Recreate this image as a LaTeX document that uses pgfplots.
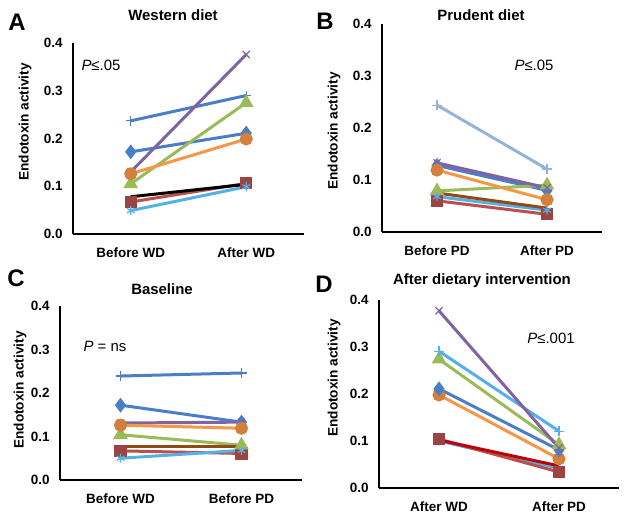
\documentclass[border=0pt]{standalone}
\usepackage{pgfplots}
\pgfplotsset{compat=1.18}
\usepackage{fontspec}
\setmainfont{Liberation Sans}
\usetikzlibrary{plotmarks}
\definecolor{cblue}{HTML}{4A7EC8}
\definecolor{cred}{HTML}{B8504D}
\definecolor{cgreen}{HTML}{9BBB59}
\definecolor{cpurple}{HTML}{8064A2}
\definecolor{caqua}{HTML}{55B0E8}
\definecolor{corange}{HTML}{F79646}
\definecolor{cpale}{HTML}{95B3D7}
\definecolor{cbrown}{HTML}{8E4A12}
\definecolor{cdkred}{HTML}{C00000}
\pgfplotsset{
  panel/.style={scale only axis, anchor=south west, clip=false,
    xmin=-0.5, xmax=1.5, ymin=0, ymax=0.4,
    axis x line*=bottom, axis y line*=left,
    axis line style={line width=1.7bp, black},
    xtick={0,1}, ytick={0,0.1,0.2,0.3,0.4},
    major tick length=0pt,
    tick label style={font=\bfseries\fontsize{13.5}{15}\selectfont},
    /pgf/number format/assume math mode=true,
    yticklabel style={/pgf/number format/fixed, /pgf/number format/fixed zerofill, /pgf/number format/precision=1, xshift=-7bp},
    xticklabel style={yshift=-10bp},
  },
  ln/.style={line width=3bp, mark options={solid}},
  sPlus/.style={ln, color=#1, mark=+, mark size=5bp, mark options={line width=1.2bp}},
  sDia/.style={ln, color=cblue, mark=diamond*, mark size=5bp},
  sSq/.style={ln, color=cred, mark=square*, mark size=4.6bp, mark options={fill=cred!85!black, draw=cred!85!black}},
  sTri/.style={ln, color=cgreen, mark=triangle*, mark size=5.5bp},
  sX/.style={ln, color=cpurple, mark=x, mark size=5bp, mark options={line width=1.2bp}},
  sAst/.style={ln, color=caqua, mark=asterisk, mark size=4.5bp, mark options={line width=1.2bp}},
  sCirc/.style={ln, color=corange, mark=*, mark size=5bp, mark options={fill=corange!85!black, draw=corange!85!black}},
  sNone/.style={ln, color=#1, mark=none},
}
\begin{document}
\begin{tikzpicture}[x=1bp,y=1bp]
\useasboundingbox (0,0) rectangle (629,517);
% ---------- A ----------
\begin{axis}[panel, at={(73bp,283bp)}, width=231bp, height=191bp,
  xticklabels={Before WD, After WD}]
\addplot[sPlus=cblue] coordinates {(0,0.237) (1,0.290)};
\addplot[sDia] coordinates {(0,0.172) (1,0.211)};
\addplot[sSq] coordinates {(0,0.067) (1,0.106)};
\addplot[sTri] coordinates {(0,0.105) (1,0.275)};
\addplot[sX] coordinates {(0,0.130) (1,0.376)};
\addplot[sAst] coordinates {(0,0.049) (1,0.099)};
\addplot[sCirc] coordinates {(0,0.126) (1,0.199)};
\addplot[sNone=black] coordinates {(0,0.078) (1,0.104)};
\end{axis}
% ---------- B ----------
\begin{axis}[panel, at={(382bp,285bp)}, width=220bp, height=208bp,
  xticklabels={Before PD, After PD}]
\addplot[sPlus=cpale] coordinates {(0,0.244) (1,0.121)};
\addplot[sDia] coordinates {(0,0.128) (1,0.080)};
\addplot[sSq] coordinates {(0,0.060) (1,0.034)};
\addplot[sTri] coordinates {(0,0.079) (1,0.090)};
\addplot[sX] coordinates {(0,0.133) (1,0.085)};
\addplot[sAst] coordinates {(0,0.068) (1,0.042)};
\addplot[sCirc] coordinates {(0,0.119) (1,0.062)};
\addplot[sNone=cbrown] coordinates {(0,0.075) (1,0.046)};
\end{axis}
% ---------- C ----------
\begin{axis}[panel, at={(60bp,37bp)}, width=242bp, height=174bp,
  xticklabels={Before WD, Before PD}]
\addplot[sPlus=cblue] coordinates {(0,0.239) (1,0.246)};
\addplot[sDia] coordinates {(0,0.172) (1,0.133)};
\addplot[sSq] coordinates {(0,0.067) (1,0.061)};
\addplot[sTri] coordinates {(0,0.104) (1,0.080)};
\addplot[sX] coordinates {(0,0.131) (1,0.133)};
\addplot[sAst] coordinates {(0,0.050) (1,0.068)};
\addplot[sCirc] coordinates {(0,0.126) (1,0.119)};
\addplot[sNone=cbrown] coordinates {(0,0.077) (1,0.077)};
\end{axis}
% ---------- D ----------
\begin{axis}[panel, at={(379bp,29bp)}, width=240bp, height=188bp,
  xticklabels={After WD, After PD}]
\addplot[sAst] coordinates {(0,0.100) (1,0.042)};
\addplot[sSq] coordinates {(0,0.104) (1,0.034)};
\addplot[sNone=cdkred] coordinates {(0,0.102) (1,0.047)};
\addplot[sCirc] coordinates {(0,0.198) (1,0.062)};
\addplot[sDia] coordinates {(0,0.211) (1,0.081)};
\addplot[sTri] coordinates {(0,0.274) (1,0.092)};
\addplot[sPlus=caqua] coordinates {(0,0.291) (1,0.121)};
\addplot[sX] coordinates {(0,0.377) (1,0.085)};
\end{axis}
% ---------- texts ----------
\def\tfont{\bfseries\fontsize{15}{18}\selectfont}
\def\lfont{\bfseries\fontsize{24}{28}\selectfont}
\def\yfont{\bfseries\fontsize{13.7}{15}\selectfont}
\def\pfont{\fontsize{15}{18}\selectfont}
\node[font=\tfont] at (173,502) {Western diet};
\node[font=\tfont] at (481,502) {Prudent diet};
\node[font=\tfont] at (162,228) {Baseline};
\node[font=\tfont] at (482,236) {After dietary intervention};
\node[font=\lfont] at (17,495) {A};
\node[font=\lfont] at (325,496) {B};
\node[font=\lfont] at (16,239) {C};
\node[font=\lfont] at (324,233) {D};
\node[font=\yfont, rotate=90] at (25,395) {Endotoxin activity};
\node[font=\yfont, rotate=90] at (334,386) {Endotoxin activity};
\node[font=\yfont, rotate=90] at (20,127) {Endotoxin activity};
\node[font=\yfont, rotate=90] at (334,139) {Endotoxin activity};
\node[font=\pfont] at (101,452) {\textit{P}≤.05};
\node[font=\pfont] at (534,452) {\textit{P}≤.05};
\node[font=\pfont] at (105,171) {\textit{P} = ns};
\node[font=\pfont] at (551,179) {\textit{P}≤.001};
\end{tikzpicture}
\end{document}
